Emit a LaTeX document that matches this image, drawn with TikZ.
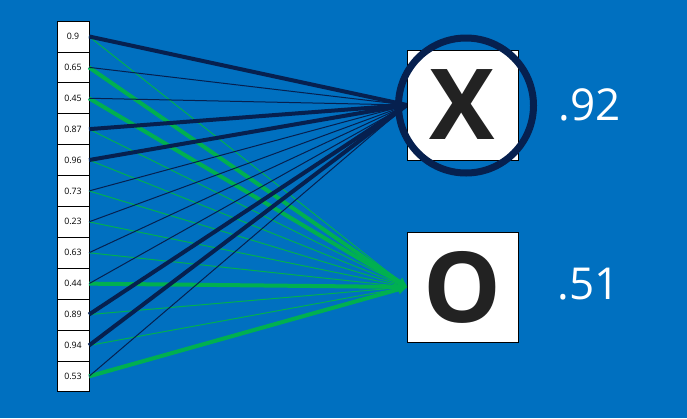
\documentclass[tikz,border=0pt]{standalone}
\usepackage{fontspec}
\setmainfont{Open Sans}
\usetikzlibrary{arrows.meta}
\definecolor{bg}{HTML}{0070C0}
\definecolor{navy}{HTML}{06204F}
\definecolor{grn}{HTML}{00B050}
\definecolor{ink}{HTML}{222222}
\tikzset{
  cell/.style={draw=black, line width=0.8pt, fill=white, minimum width=32pt, minimum height=30.9pt, inner sep=0pt, outer sep=0pt, font=\fontsize{8.8}{9}\selectfont},
  outbox/.style={draw=black, line width=0.8pt, fill=white, minimum width=111pt, minimum height=110pt, inner sep=0pt, outer sep=0pt, text=ink},
  thinx/.style={navy, line width=1pt},
  thickx/.style={navy, line width=4pt},
  thino/.style={grn, line width=1pt, -{Triangle[length=3.5pt,width=3.5pt]}},
  thicko/.style={grn, line width=4pt, -{Triangle[length=9pt,width=9pt]}},
  score/.style={text=white, font=\fontsize{44}{44}\selectfont, inner sep=0pt},
}
\begin{document}
\begin{tikzpicture}[x=1pt,y=-1pt]
\fill[bg] (0,0) rectangle (687,418);
\useasboundingbox (0,0) rectangle (687,418);
% input cells
\foreach \v [count=\i] in {0.9,0.65,0.45,0.87,0.96,0.73,0.23,0.63,0.44,0.89,0.94,0.53}{
  \node[cell] (c\i) at (73,{21+30.9*(\i-0.5)}) {\v};
}
% output boxes
\node[outbox, font=\fontsize{98}{98}\selectfont\bfseries] (x) at (462.5,105) {X};
\node[outbox, font=\fontsize{98}{98}\selectfont\bfseries] (o) at (462.5,287) {O};
% green connectors to O
\foreach \i in {1,4,5,6,7,8,10,11}{ \draw[thino] (c\i.east) -- (o.west); }
\foreach \i in {2,3,9,12}{ \draw[thicko] (c\i.east) -- (o.west); }
% navy connectors to X
\foreach \i in {2,3,6,7,8,9,12}{ \draw[thinx] (c\i.east) -- (x.west); }
\foreach \i in {1,4,5,10,11}{ \draw[thickx] (c\i.east) -- (x.west); }
% redraw boxes over line ends
\node[outbox, font=\fontsize{98}{98}\selectfont\bfseries] at (x.center) {X};
\node[outbox, font=\fontsize{98}{98}\selectfont\bfseries] at (o.center) {O};
% highlight circle
\draw[navy, line width=7pt] ([xshift=3.5pt,yshift=-0.5pt]x.center) circle (67.5pt);
% scores
\node[score] (sx) at (590,105) {.92};
\node[score] (so) at (589,284) {.51};
\end{tikzpicture}
\end{document}
